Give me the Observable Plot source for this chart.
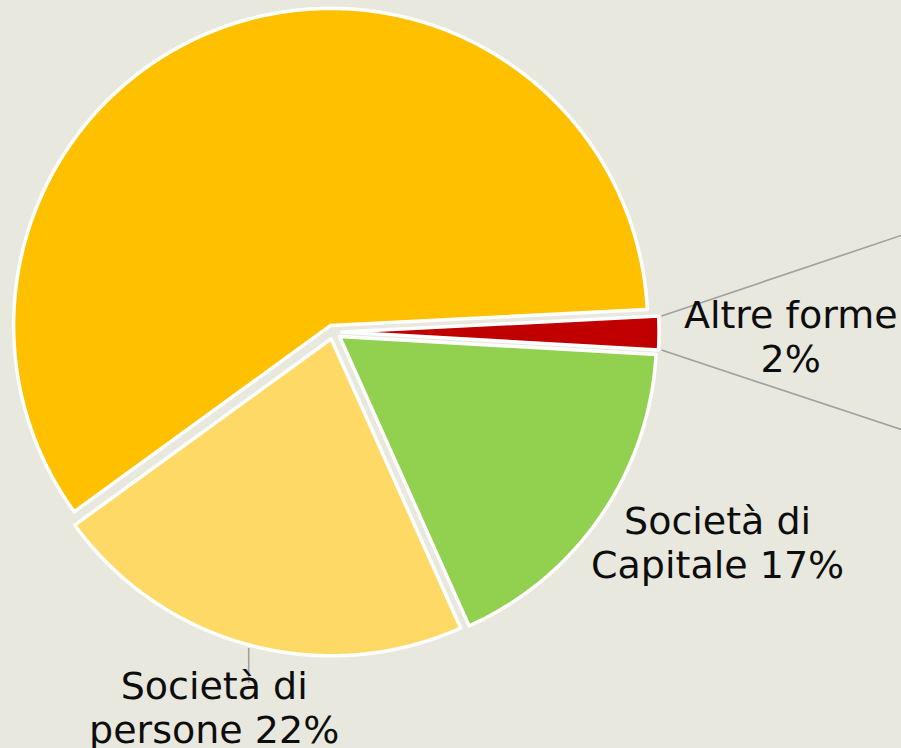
<!DOCTYPE html>
<html><head><meta charset="utf-8">
<script src="https://cdn.jsdelivr.net/npm/d3@7"></script>
<script src="https://cdn.jsdelivr.net/npm/@observablehq/plot@0.6"></script>
<style>
html,body{margin:0;padding:0;background:#E8E8DE;overflow:hidden;}
#chart svg{display:block;background:#E8E8DE;}
</style>
</head><body><div id="chart"></div>
<script>
// ---- data ----
const categories = ["Imprese individuali", "Altre forme", "Società di Capitale", "Società di persone"];
const shares = [59.2, 1.7, 17.4, 21.7];
const labels = [null, "Altre forme\n2%", "Società di\nCapitale 17%", "Società di\npersone 22%"];
const colors = ["#FFC000", "#C00000", "#92D050", "#FFD966"];

// ---- layout ----
const W = 901, H = 748;
const center = [332.5, 331.5];
const R = 317;
const startDeg = -126;
const explode = [7, 9, 8, 7];
const labelTurnDeg = [0, 0.35, -5.95, 2.65];
const labelDist = [0, 1.444, 1.382, 1.240];
const connectorSlope = [-0.336, 0.331];
const toRad = Math.PI / 180;

const arcs = d3.pie().sort(null)
  .startAngle(startDeg * toRad)
  .endAngle(startDeg * toRad + 2 * Math.PI)(shares);

const pt = (c, r, a) => [c[0] + r * Math.sin(a), c[1] - r * Math.cos(a)];

const slicePts = [];
const apexes = [];
arcs.forEach((a, i) => {
  const mid = (a.startAngle + a.endAngle) / 2;
  const apex = pt(center, explode[i], mid);
  apexes.push(apex);
  const name = categories[i];
  slicePts.push({name, x: apex[0], y: apex[1]});
  const n = Math.max(2, Math.ceil((a.endAngle - a.startAngle) / toRad / 0.5));
  for (let k = 0; k <= n; k++) {
    const t = a.startAngle + (a.endAngle - a.startAngle) * k / n;
    const p = pt(apex, R, t);
    slicePts.push({name, x: p[0], y: p[1]});
  }
  slicePts.push({name, x: apex[0], y: apex[1]});
});

// labels
const labelData = arcs.map((a, i) => {
  if (!labels[i]) return null;
  const mid = (a.startAngle + a.endAngle) / 2 + labelTurnDeg[i] * toRad;
  const p = pt(center, R * labelDist[i], mid);
  return {text: labels[i], x: p[0], y: p[1]};
}).filter(d => d);

// connectors from "Altre forme" slice to the secondary chart (off to the right)
const iAltre = categories.indexOf("Altre forme");
const ra = arcs[iAltre];
const c1 = pt(apexes[iAltre], R + 3, ra.startAngle);
const c2 = pt(apexes[iAltre], R + 3, ra.endAngle);
const connectors = [c1, c2].map((c, k) => ({
  x1: c[0], y1: c[1], x2: W + 60, y2: c[1] + connectorSlope[k] * (W + 60 - c[0])
}));

// leader for "Società di persone"
const iPers = categories.indexOf("Società di persone");
const pa = arcs[iPers];
const pMid = pt(apexes[iPers], R + 3, (pa.startAngle + pa.endAngle) / 2);
const persLabel = labelData.find(d => d.text === labels[iPers]);
const leaders = [{x1: pMid[0], y1: pMid[1], x2: pMid[0], y2: persLabel.y - 24}];

const chart = Plot.plot({
  width: W, height: H,
  margin: 0,
  x: {domain: [0, W], range: [0, W], axis: null},
  y: {domain: [0, H], range: [0, H], axis: null},
  color: {domain: categories, range: colors},
  style: {background: "#E8E8DE"},
  marks: [
    Plot.link(connectors, {x1: "x1", y1: "y1", x2: "x2", y2: "y2", stroke: "#A0A0A0", strokeWidth: 1.6, clip: true}),
    Plot.link(leaders, {x1: "x1", y1: "y1", x2: "x2", y2: "y2", stroke: "#A0A0A0", strokeWidth: 1.6}),
    Plot.line(slicePts, {x: "x", y: "y", z: "name", fill: "name", stroke: "white", strokeWidth: 3.5, strokeLinejoin: "round", curve: "linear"}),
    Plot.text(labelData, {x: "x", y: "y", text: "text", fontSize: 38, fontFamily: "DejaVu Sans, Verdana, sans-serif", lineHeight: 44 / 38, fill: "#0d0d0d", textAnchor: "middle"})
  ]
});
document.getElementById("chart").appendChild(chart);
</script>
</body></html>
